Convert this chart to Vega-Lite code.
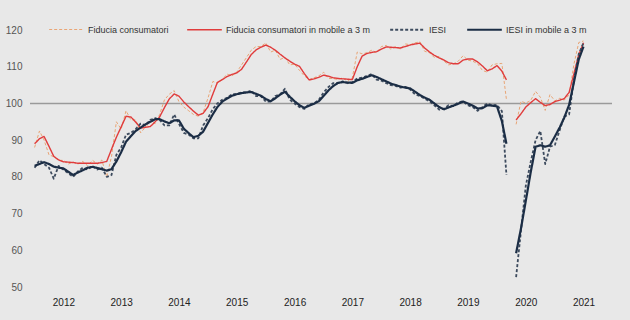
{
  "$schema": "https://vega.github.io/schema/vega-lite/v6.json",
  "width": 582,
  "height": 257,
  "autosize": "none",
  "padding": {"left": 30, "top": 30, "right": 18, "bottom": 33},
  "background": "#e8e8e8",
  "config": {
    "view": {"stroke": null},
    "font": "Liberation Sans",
    "axis": {"grid": false, "domain": false, "ticks": false, "title": null, "labelFont": "Liberation Sans", "labelOverlap": false},
    "legend": {"labelFont": "Liberation Sans"}
  },
  "datasets": {
    "m": [
      {"d":"2012-01-01","fc":88,"fcm":89.0,"ie":82.5,"iem":83.0},
      {"d":"2012-02-01","fc":92.5,"fcm":90.4,"ie":84.5,"iem":83.5},
      {"d":"2012-03-01","fc":90,"fcm":91.0,"ie":83.5,"iem":84.0},
      {"d":"2012-04-01","fc":86,"fcm":88.3,"ie":82.5,"iem":83.5},
      {"d":"2012-05-01","fc":85.5,"fcm":85.6,"ie":79.5,"iem":82.8},
      {"d":"2012-06-01","fc":84.5,"fcm":84.6,"ie":83,"iem":82.5},
      {"d":"2012-07-01","fc":84.5,"fcm":84.1,"ie":82,"iem":82.3},
      {"d":"2012-08-01","fc":83.5,"fcm":84.0,"ie":81,"iem":81.4},
      {"d":"2012-09-01","fc":84,"fcm":83.9,"ie":80,"iem":80.5},
      {"d":"2012-10-01","fc":83.5,"fcm":83.7,"ie":81.5,"iem":81.2},
      {"d":"2012-11-01","fc":84.2,"fcm":83.7,"ie":82.5,"iem":81.8},
      {"d":"2012-12-01","fc":83,"fcm":83.7,"ie":82,"iem":82.5},
      {"d":"2013-01-01","fc":84.5,"fcm":83.7,"ie":83,"iem":82.7},
      {"d":"2013-02-01","fc":83.5,"fcm":83.7,"ie":82,"iem":82.4},
      {"d":"2013-03-01","fc":84.6,"fcm":83.9,"ie":82.5,"iem":82.1},
      {"d":"2013-04-01","fc":80,"fcm":84.2,"ie":80,"iem":81.7},
      {"d":"2013-05-01","fc":85.5,"fcm":87.5,"ie":80.5,"iem":82.1},
      {"d":"2013-06-01","fc":95,"fcm":90.8,"ie":86,"iem":84.2},
      {"d":"2013-07-01","fc":93,"fcm":93.6,"ie":88,"iem":86.7},
      {"d":"2013-08-01","fc":98,"fcm":96.5,"ie":91.5,"iem":89.6},
      {"d":"2013-09-01","fc":95.5,"fcm":96.3,"ie":92,"iem":91.1},
      {"d":"2013-10-01","fc":95.5,"fcm":94.9,"ie":93,"iem":92.5},
      {"d":"2013-11-01","fc":92,"fcm":93.3,"ie":94.5,"iem":93.4},
      {"d":"2013-12-01","fc":93.5,"fcm":93.5,"ie":94,"iem":94.3},
      {"d":"2014-01-01","fc":95,"fcm":93.7,"ie":95.5,"iem":95.0},
      {"d":"2014-02-01","fc":94.5,"fcm":95.0,"ie":96,"iem":95.7},
      {"d":"2014-03-01","fc":97,"fcm":96.3,"ie":95.5,"iem":95.7},
      {"d":"2014-04-01","fc":101,"fcm":98.9,"ie":94,"iem":95.1},
      {"d":"2014-05-01","fc":102.5,"fcm":101.2,"ie":94,"iem":94.6},
      {"d":"2014-06-01","fc":103.5,"fcm":102.6,"ie":97,"iem":95.4},
      {"d":"2014-07-01","fc":100.5,"fcm":102.0,"ie":94.5,"iem":95.4},
      {"d":"2014-08-01","fc":99,"fcm":100.4,"ie":92,"iem":93.1},
      {"d":"2014-09-01","fc":98,"fcm":99.1,"ie":91.5,"iem":91.9},
      {"d":"2014-10-01","fc":97,"fcm":97.9,"ie":90.5,"iem":90.8},
      {"d":"2014-11-01","fc":96.5,"fcm":96.8,"ie":90.5,"iem":91.2},
      {"d":"2014-12-01","fc":97.5,"fcm":97.3,"ie":94,"iem":92.3},
      {"d":"2015-01-01","fc":101.5,"fcm":99.1,"ie":96,"iem":94.7},
      {"d":"2015-02-01","fc":106,"fcm":102.6,"ie":98.5,"iem":97.1},
      {"d":"2015-03-01","fc":105.5,"fcm":105.7,"ie":100,"iem":99.0},
      {"d":"2015-04-01","fc":106.5,"fcm":106.5,"ie":101,"iem":100.5},
      {"d":"2015-05-01","fc":108,"fcm":107.3,"ie":101.5,"iem":101.3},
      {"d":"2015-06-01","fc":107.5,"fcm":107.9,"ie":102.5,"iem":102.1},
      {"d":"2015-07-01","fc":108.5,"fcm":108.3,"ie":102.5,"iem":102.5},
      {"d":"2015-08-01","fc":110.5,"fcm":109.3,"ie":103,"iem":102.8},
      {"d":"2015-09-01","fc":112.5,"fcm":111.3,"ie":103,"iem":103.0},
      {"d":"2015-10-01","fc":114.5,"fcm":113.3,"ie":103.5,"iem":103.1},
      {"d":"2015-11-01","fc":115.5,"fcm":114.6,"ie":102,"iem":102.6},
      {"d":"2015-12-01","fc":115.5,"fcm":115.3,"ie":102,"iem":102.1},
      {"d":"2016-01-01","fc":116.5,"fcm":115.9,"ie":100.5,"iem":101.2},
      {"d":"2016-02-01","fc":114,"fcm":115.3,"ie":100.5,"iem":100.6},
      {"d":"2016-03-01","fc":114.5,"fcm":114.5,"ie":102,"iem":101.4},
      {"d":"2016-04-01","fc":112,"fcm":113.4,"ie":102.5,"iem":102.4},
      {"d":"2016-05-01","fc":112.5,"fcm":112.4,"ie":104,"iem":103.2},
      {"d":"2016-06-01","fc":110.5,"fcm":111.5,"ie":101,"iem":101.8},
      {"d":"2016-07-01","fc":110.7,"fcm":110.7,"ie":100,"iem":100.6},
      {"d":"2016-08-01","fc":109,"fcm":110.1,"ie":99,"iem":99.5},
      {"d":"2016-09-01","fc":107.5,"fcm":108.1,"ie":98.5,"iem":98.8},
      {"d":"2016-10-01","fc":106.5,"fcm":106.4,"ie":99.8,"iem":99.4},
      {"d":"2016-11-01","fc":107,"fcm":106.7,"ie":100,"iem":99.9},
      {"d":"2016-12-01","fc":107.5,"fcm":107.1,"ie":101,"iem":100.6},
      {"d":"2017-01-01","fc":108.5,"fcm":107.7,"ie":103,"iem":102.1},
      {"d":"2017-02-01","fc":106.8,"fcm":107.4,"ie":104.5,"iem":103.6},
      {"d":"2017-03-01","fc":106.8,"fcm":107.0,"ie":105.5,"iem":104.7},
      {"d":"2017-04-01","fc":106.5,"fcm":106.8,"ie":105.5,"iem":105.6},
      {"d":"2017-05-01","fc":107,"fcm":106.7,"ie":106,"iem":105.8},
      {"d":"2017-06-01","fc":106,"fcm":106.6,"ie":105.5,"iem":105.7},
      {"d":"2017-07-01","fc":107,"fcm":106.5,"ie":105.8,"iem":105.6},
      {"d":"2017-08-01","fc":114,"fcm":110.0,"ie":106.8,"iem":106.3},
      {"d":"2017-09-01","fc":113.5,"fcm":112.9,"ie":107,"iem":106.7},
      {"d":"2017-10-01","fc":113.8,"fcm":113.6,"ie":107.5,"iem":107.2},
      {"d":"2017-11-01","fc":114.5,"fcm":113.9,"ie":108,"iem":107.7},
      {"d":"2017-12-01","fc":113.8,"fcm":114.1,"ie":106.5,"iem":107.2},
      {"d":"2018-01-01","fc":115.5,"fcm":114.8,"ie":106.2,"iem":106.6},
      {"d":"2018-02-01","fc":115.8,"fcm":115.4,"ie":105.5,"iem":106.0},
      {"d":"2018-03-01","fc":114.8,"fcm":115.3,"ie":105,"iem":105.4},
      {"d":"2018-04-01","fc":115.5,"fcm":115.2,"ie":104.8,"iem":105.0},
      {"d":"2018-05-01","fc":114.8,"fcm":115.1,"ie":104.3,"iem":104.6},
      {"d":"2018-06-01","fc":116.2,"fcm":115.5,"ie":104.5,"iem":104.3},
      {"d":"2018-07-01","fc":116,"fcm":115.9,"ie":103.8,"iem":104.1},
      {"d":"2018-08-01","fc":116.5,"fcm":116.2,"ie":102.5,"iem":103.2},
      {"d":"2018-09-01","fc":116.8,"fcm":116.4,"ie":102,"iem":102.3},
      {"d":"2018-10-01","fc":114.2,"fcm":115.1,"ie":101.3,"iem":101.6},
      {"d":"2018-11-01","fc":113.8,"fcm":114.0,"ie":100.6,"iem":101.0},
      {"d":"2018-12-01","fc":112.5,"fcm":113.1,"ie":99.5,"iem":100.0},
      {"d":"2019-01-01","fc":112.8,"fcm":112.4,"ie":98.3,"iem":99.0},
      {"d":"2019-02-01","fc":111.5,"fcm":111.8,"ie":98.6,"iem":98.4},
      {"d":"2019-03-01","fc":110.5,"fcm":111.1,"ie":99.5,"iem":98.9},
      {"d":"2019-04-01","fc":110.8,"fcm":110.8,"ie":99.3,"iem":99.4},
      {"d":"2019-05-01","fc":111.5,"fcm":110.8,"ie":100.3,"iem":99.9},
      {"d":"2019-06-01","fc":113,"fcm":111.8,"ie":100.6,"iem":100.5},
      {"d":"2019-07-01","fc":111.8,"fcm":112.1,"ie":99.5,"iem":100.0},
      {"d":"2019-08-01","fc":111.5,"fcm":112.1,"ie":99,"iem":99.4},
      {"d":"2019-09-01","fc":110.8,"fcm":111.3,"ie":98,"iem":98.6},
      {"d":"2019-10-01","fc":109,"fcm":110.2,"ie":99,"iem":98.7},
      {"d":"2019-11-01","fc":108.5,"fcm":108.9,"ie":100,"iem":99.5},
      {"d":"2019-12-01","fc":110.5,"fcm":109.4,"ie":99.5,"iem":99.4},
      {"d":"2020-01-01","fc":110.8,"fcm":110.3,"ie":99.6,"iem":99.2},
      {"d":"2020-02-01","fc":110.9,"fcm":108.8,"ie":97.9,"iem":95.2},
      {"d":"2020-03-01","fc":101,"fcm":106.4,"ie":80.5,"iem":89.0},
      {"d":"2020-04-01","fc":null,"fcm":null,"ie":null,"iem":null},
      {"d":"2020-05-01","fc":94.3,"fcm":95.5,"ie":52.7,"iem":59.2},
      {"d":"2020-06-01","fc":100.6,"fcm":97.2,"ie":65.4,"iem":66.0},
      {"d":"2020-07-01","fc":100.1,"fcm":99.0,"ie":77.5,"iem":73.4},
      {"d":"2020-08-01","fc":100.8,"fcm":100.2,"ie":84,"iem":81.2},
      {"d":"2020-09-01","fc":103.3,"fcm":101.3,"ie":90,"iem":88.2},
      {"d":"2020-10-01","fc":101.7,"fcm":100.3,"ie":92.5,"iem":88.6},
      {"d":"2020-11-01","fc":98.1,"fcm":99.4,"ie":83.5,"iem":88.2},
      {"d":"2020-12-01","fc":102.4,"fcm":99.7,"ie":88.2,"iem":88.6},
      {"d":"2021-01-01","fc":100.7,"fcm":100.5,"ie":88.7,"iem":91.0},
      {"d":"2021-02-01","fc":101.4,"fcm":100.9,"ie":92.8,"iem":93.5},
      {"d":"2021-03-01","fc":100.9,"fcm":101.3,"ie":96.4,"iem":96.1},
      {"d":"2021-04-01","fc":102.3,"fcm":103.0,"ie":97,"iem":99.6},
      {"d":"2021-05-01","fc":110.6,"fcm":108.0,"ie":106.3,"iem":105.7},
      {"d":"2021-06-01","fc":116.6,"fcm":113.3,"ie":113.5,"iem":112.0},
      {"d":"2021-07-01","fc":117,"fcm":116.5,"ie":116.5,"iem":115.5}
    ],
    "ref": [{"v": 100}]
  },
  "layer": [
    {
      "data": {"name": "ref"},
      "mark": {"type": "rule", "color": "#9a9a9a", "strokeWidth": 1.5},
      "encoding": {
        "y": {
          "field": "v", "type": "quantitative",
          "scale": {"domain": [50, 120], "nice": false, "zero": false},
          "axis": {"values": [50, 60, 70, 80, 90, 100, 110, 120], "labelFontSize": 10, "labelColor": "#555555", "labelPadding": 8, "labelOverlap": false}
        }
      }
    },
    {
      "data": {"name": "m"},
      "transform": [{"fold": ["fc", "fcm", "ie", "iem"], "as": ["series", "value"]}],
      "mark": {"type": "line", "invalid": "break-paths-filter-domains", "strokeJoin": "round"},
      "encoding": {
        "x": {
          "field": "d", "type": "temporal",
          "scale": {"domain": ["2011-12-03", "2021-12-28"], "nice": false},
          "axis": {
            "values": [
              {"year": 2012, "month": 7, "date": 1}, {"year": 2013, "month": 7, "date": 1},
              {"year": 2014, "month": 7, "date": 1}, {"year": 2015, "month": 7, "date": 1},
              {"year": 2016, "month": 7, "date": 1}, {"year": 2017, "month": 7, "date": 1},
              {"year": 2018, "month": 7, "date": 1}, {"year": 2019, "month": 7, "date": 1},
              {"year": 2020, "month": 7, "date": 1}, {"year": 2021, "month": 7, "date": 1}
            ],
            "format": "%Y", "labelFontSize": 10, "labelColor": "#222222", "labelPadding": 10, "labelFlush": false
          }
        },
        "y": {
          "field": "value", "type": "quantitative",
          "scale": {"domain": [50, 120], "nice": false, "zero": false},
          "axis": {"values": [50, 60, 70, 80, 90, 100, 110, 120], "labelFontSize": 10, "labelColor": "#555555", "labelPadding": 8, "labelOverlap": false}
        },
        "color": {
          "field": "series", "type": "nominal",
          "scale": {"domain": ["fc", "fcm", "ie", "iem"], "range": ["#e9a575", "#e03c3c", "#3d4b5e", "#1b2d45"]},
          "legend": {
            "title": null, "orient": "none", "direction": "horizontal", "columns": 4,
            "legendX": 18, "legendY": -19, "padding": 0, "columnPadding": 15,
            "symbolSize": 1200, "labelOffset": 3, "labelFontSize": 9, "labelColor": "#333333",
            "labelLimit": 300,
            "labelExpr": "datum.label == 'fc' ? 'Fiducia consumatori' : datum.label == 'fcm' ? 'Fiducia consumatori in mobile a 3 m' : datum.label == 'ie' ? 'IESI' : 'IESI in mobile a 3 m'"
          }
        },
        "strokeDash": {
          "field": "series", "type": "nominal",
          "scale": {"domain": ["fc", "fcm", "ie", "iem"], "range": [[3, 2], [1, 0], [3, 2], [1, 0]]},
          "legend": null
        },
        "strokeWidth": {
          "field": "series", "type": "nominal",
          "scale": {"domain": ["fc", "fcm", "ie", "iem"], "range": [1, 2.2, 1, 2.8]},
          "legend": null
        }
      }
    }
  ]
}
